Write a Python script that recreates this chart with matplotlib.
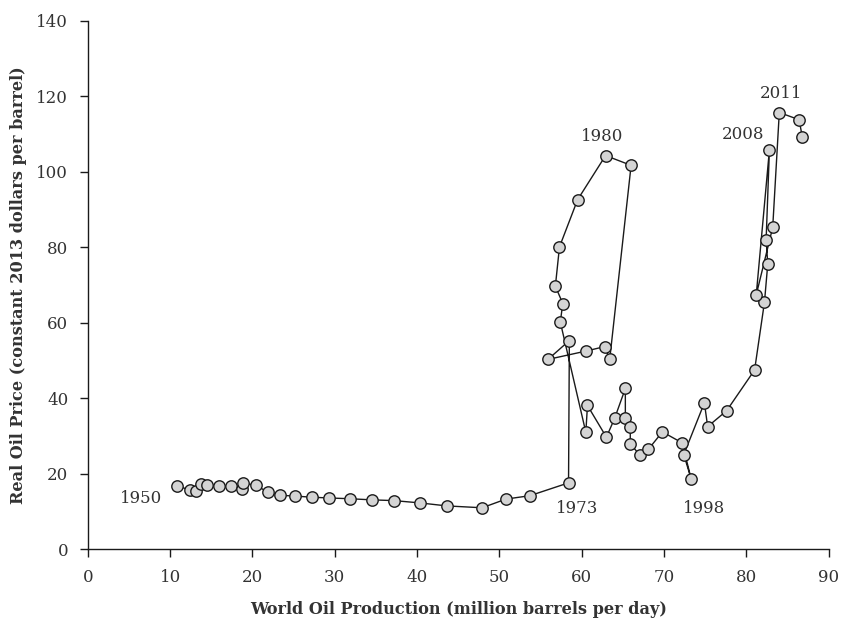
import matplotlib
matplotlib.use("Agg")
import matplotlib.pyplot as plt

# world oil production (million barrels/day) vs real price, 1950-2013
production = [10.9, 12.4, 13.2, 13.8, 14.5, 16.0, 17.4, 18.7, 18.9, 20.4,
              21.9, 23.4, 25.2, 27.2, 29.3, 31.8, 34.5, 37.2, 40.3, 43.6,
              47.9, 50.8, 53.7,
              58.4, 58.5, 55.9, 60.5, 62.8, 63.4, 66.0, 62.9, 59.5, 57.3,
              56.8, 57.7, 57.4,
              60.5, 60.7, 63.0, 64.0, 65.3, 65.3, 65.9, 65.9, 67.1, 68.1,
              69.8, 72.2, 73.3, 72.4,
              74.9, 75.3, 77.6, 81.0,
              82.2, 82.6, 82.4, 82.8, 81.2, 83.2, 84.0, 86.4, 86.8]
price = [16.8, 15.7, 15.4, 17.2, 17.0, 16.8, 16.7, 15.9, 17.5, 17.0,
         15.1, 14.3, 14.1, 13.8, 13.6, 13.4, 13.1, 12.9, 12.3, 11.5,
         11.0, 13.3, 14.2,
         17.6, 55.3, 50.3, 52.5, 53.7, 50.3, 101.7, 104.3, 92.6, 80.1,
         69.7, 65.1, 60.2,
         31.0, 38.1, 29.7, 34.7, 42.6, 34.9, 32.3, 27.9, 24.9, 26.5,
         31.1, 28.2, 18.6, 25.1,
         38.8, 32.5, 36.7, 47.5,
         65.5, 75.6, 82.0, 105.8, 67.4, 85.3, 115.7, 113.8, 109.2]

# year labels: text, x, y, alignment
year_labels = [("1950", 9.1, 13.5, "right"),
               ("1973", 59.4, 10.9, "center"),
               ("1998", 74.9, 10.9, "center"),
               ("1980", 62.5, 109.3, "center"),
               ("2008", 79.6, 110.0, "center"),
               ("2011", 84.2, 120.7, "center")]

plt.rcParams["font.family"] = "DejaVu Serif"
txt = "#333333"

fig = plt.figure(figsize=(8.42, 6.24), dpi=100)
ax = fig.add_axes([0.1042, 0.1197, 0.88, 0.847])

ax.plot(production, price, color="#1a1a1a", lw=1.0, marker="o", ms=8.2,
        mfc="#d4d4d4", mec="#1a1a1a", mew=1.0, zorder=3)

for t, x, y, ha in year_labels:
    ax.text(x, y, t, ha=ha, va="center", fontsize=12, color=txt)

ax.set_xlim(0, 90)
ax.set_ylim(0, 140)
ax.set_xticks(range(0, 91, 10))
ax.set_yticks(range(0, 141, 20))
ax.spines["top"].set_visible(False)
ax.spines["right"].set_visible(False)
for s in ["left", "bottom"]:
    ax.spines[s].set_color("#1a1a1a")
    ax.spines[s].set_linewidth(1.0)
ax.tick_params(direction="out", length=6, width=1.0, color="#1a1a1a",
               labelsize=12, labelcolor=txt, pad=8)

ax.set_xlabel("World Oil Production (million barrels per day)",
              fontsize=11.6, fontweight="bold", color=txt, labelpad=11)
ax.set_ylabel("Real Oil Price (constant 2013 dollars per barrel)",
              fontsize=11.6, fontweight="bold", color=txt, labelpad=6.5)

fig.savefig("out.png", dpi=100)
